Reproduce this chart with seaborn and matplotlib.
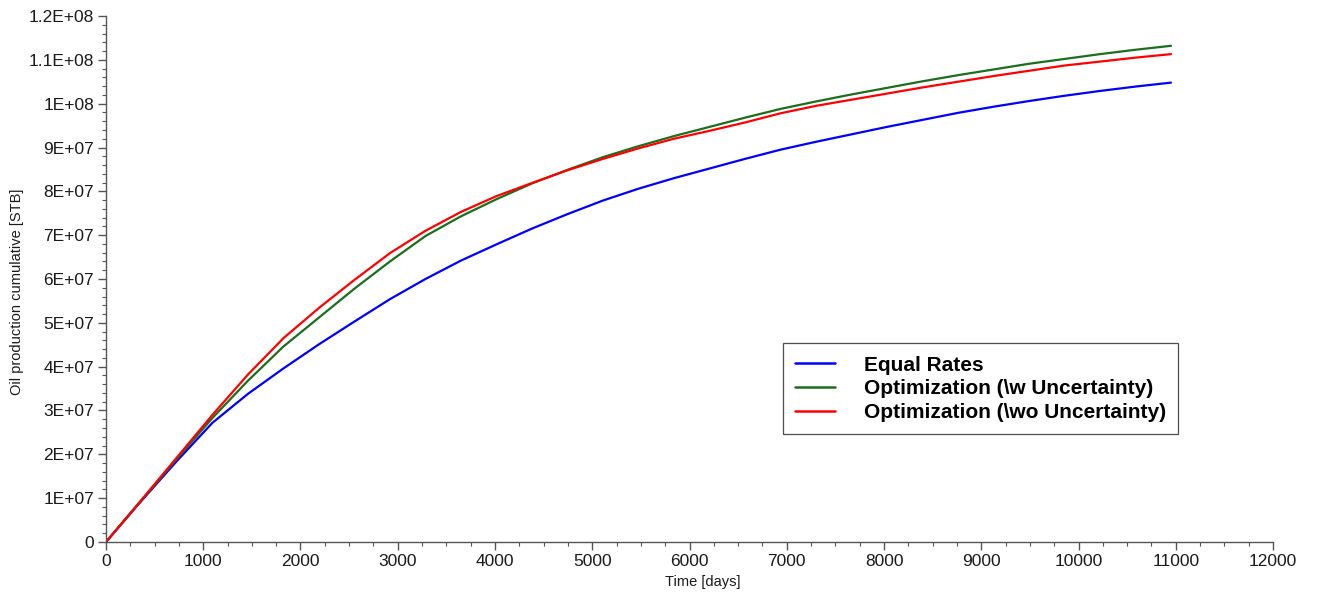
import numpy as np
import pandas as pd
import matplotlib
matplotlib.use("Agg")
import matplotlib.pyplot as plt
from matplotlib.ticker import MultipleLocator, FuncFormatter
from matplotlib.lines import Line2D
import seaborn as sns

# Simulation report times (days, yearly steps over 30 years)
time_days = [0, 365, 730, 1095, 1460, 1825, 2190, 2555, 2920, 3285, 3650,
             4015, 4380, 4745, 5110, 5475, 5840, 6205, 6570, 6935, 7300,
             7665, 8030, 8395, 8760, 9125, 9490, 9855, 10220, 10585, 10950]

# Cumulative oil production, millions of STB
equal_rates = [0, 9.4, 18.5, 27.2, 33.8, 39.6, 45.1, 50.3, 55.4, 60.0, 64.2,
               67.9, 71.5, 74.8, 77.9, 80.6, 83.0, 85.2, 87.4, 89.5, 91.3,
               93.0, 94.7, 96.3, 97.9, 99.3, 100.6, 101.8, 102.9, 103.9, 104.8]
opt_w_unc = [0, 9.5, 19.0, 28.3, 36.8, 44.6, 51.2, 57.8, 64.0, 69.8, 74.3,
             78.2, 81.8, 84.9, 87.8, 90.3, 92.6, 94.7, 96.8, 98.8, 100.5,
             102.1, 103.6, 105.1, 106.5, 107.8, 109.1, 110.2, 111.3, 112.3, 113.2]
opt_wo_unc = [0, 9.6, 19.3, 29.0, 38.2, 46.5, 53.4, 59.8, 65.9, 71.0, 75.3,
              78.9, 81.9, 84.8, 87.4, 89.8, 92.0, 93.8, 95.7, 97.8, 99.5,
              100.9, 102.3, 103.7, 105.0, 106.3, 107.5, 108.7, 109.6, 110.5, 111.3]

series_names = ["Equal Rates", "Optimization (\\w Uncertainty)",
                "Optimization (\\wo Uncertainty)"]
series_colors = ["#0000ff", "#1b6e1b", "#ff0000"]

frames = []
for name, vals in zip(series_names, [equal_rates, opt_w_unc, opt_wo_unc]):
    frames.append(pd.DataFrame({"time": time_days,
                                "cum": np.array(vals) * 1e6,
                                "series": name}))
df = pd.concat(frames, ignore_index=True)

sns.set_style("white")
plt.rcParams["font.family"] = ["Liberation Sans", "DejaVu Sans"]

fig = plt.figure(figsize=(13.18, 5.95), dpi=100)
ax = fig.add_axes([0.0804, 0.0891, 0.8855, 0.8840])

sns.lineplot(data=df, x="time", y="cum", hue="series",
             palette=dict(zip(series_names, series_colors)),
             linewidth=1.6, ax=ax, legend=False, estimator=None, sort=False)

ax.set_xlim(0, 12000)
ax.set_ylim(0, 1.2e8)

ax.xaxis.set_major_locator(MultipleLocator(1000))
ax.xaxis.set_minor_locator(MultipleLocator(250))
ax.yaxis.set_major_locator(MultipleLocator(1e7))
ax.yaxis.set_minor_locator(MultipleLocator(2e6))


def excel_sci(v, pos):
    if abs(v) < 1e-9:
        return "0"
    exp = int(np.floor(np.log10(abs(v)) + 1e-9))
    mant = v / 10 ** exp
    return "{:g}E+{:02d}".format(round(mant, 2), exp)


ax.yaxis.set_major_formatter(FuncFormatter(excel_sci))

spine_color = "#555555"
for side in ["top", "right"]:
    ax.spines[side].set_visible(False)
for side in ["left", "bottom"]:
    ax.spines[side].set_color(spine_color)
    ax.spines[side].set_linewidth(1.0)

ax.tick_params(axis="both", which="major", direction="out", length=6,
               width=1.0, color=spine_color, labelsize=12.5,
               labelcolor="#1a1a1a", left=True, bottom=True, pad=2.5)
ax.tick_params(axis="both", which="minor", direction="out", length=3,
               width=0.8, color=spine_color, left=True, bottom=True)

ax.set_xlabel("Time [days]", fontsize=10.5, color="#1a1a1a")
ax.set_ylabel("Oil production cumulative [STB]", fontsize=10.5,
              color="#1a1a1a")
ax.xaxis.set_label_coords(0.511, -0.062)
ax.yaxis.set_label_coords(-0.0705, 0.475)

handles = [Line2D([0], [0], color=c, lw=1.8) for c in series_colors]
leg = ax.legend(handles, series_names, loc="upper left",
                bbox_to_anchor=(0.580, 0.378), borderaxespad=0,
                prop={"weight": "bold", "size": 15}, frameon=True,
                fancybox=False, handlelength=1.92, handletextpad=1.35,
                labelspacing=0.22, borderpad=0.6)
for txt in leg.get_texts():
    txt.set_color("black")
leg.get_frame().set_edgecolor("#222222")
leg.get_frame().set_linewidth(0.9)

fig.savefig("out.png", dpi=100, facecolor="white")
